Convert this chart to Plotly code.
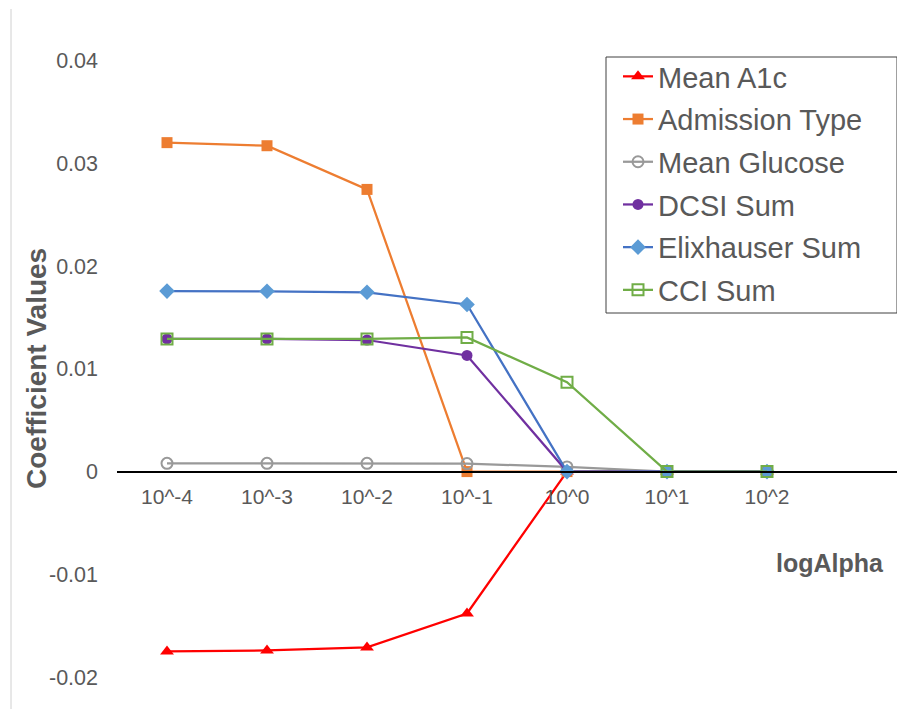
import plotly.graph_objects as go

categories = ["10^-4", "10^-3", "10^-2", "10^-1", "10^0", "10^1", "10^2"]

mean_a1c = [-0.0175, -0.0174, -0.0171, -0.0138, 0.0, 0.0, 0.0]
admission_type = [0.0320, 0.0317, 0.02745, 0.0, 0.0, 0.0, 0.0]
mean_glucose = [0.0008, 0.0008, 0.0008, 0.00078, 0.00045, 0.0, 0.0]
dcsi_sum = [0.0129, 0.0129, 0.0128, 0.0113, 0.0, 0.0, 0.0]
elixhauser_sum = [0.01756, 0.01754, 0.01744, 0.01626, 0.0, 0.0, 0.0]
cci_sum = [0.0129, 0.0129, 0.0129, 0.01305, 0.0087, 0.0, 0.0]

y_ticks = [0.04, 0.03, 0.02, 0.01, 0.0, -0.01, -0.02]
y_tick_text = ["0.04", "0.03", "0.02", "0.01", "0", "-0.01", "-0.02"]

Y_MIN, Y_MAX = -0.0229, 0.0450
FONT = "Liberation Sans, Arial, sans-serif"
TXT = "#595959"

# page body has an 8px margin; the figure is sized to fit the window
W, H = 897, 701
PL, PT = 109, 1          # plot-area left/top inside the figure
PW, PH = 788, 698        # plot-area width/height

def px_x(x_win):
    return (x_win - 8 - PL) / PW

def px_y(y_win):
    return (PT + PH - (y_win - 8)) / PH

series = [
    ("Mean A1c", mean_a1c, "#FF0000", dict(symbol="triangle-up", size=12, color="#FF0000")),
    ("Admission Type", admission_type, "#ED7D31", dict(symbol="square", size=11, color="#ED7D31")),
    ("Mean Glucose", mean_glucose, "#999999",
     dict(symbol="circle-open", size=11, color="#999999", line=dict(width=2, color="#999999"))),
    ("DCSI Sum", dcsi_sum, "#7030A0", dict(symbol="circle", size=11, color="#7030A0")),
    ("Elixhauser Sum", elixhauser_sum, "#4472C4", dict(symbol="diamond", size=12, color="#5B9BD5")),
    ("CCI Sum", cci_sum, "#70AD47",
     dict(symbol="square-open", size=11, color="#70AD47", line=dict(width=2, color="#70AD47"))),
]

fig = go.Figure()
for i, (name, vals, col, mk) in enumerate(series):
    fig.add_trace(go.Scatter(
        x=categories, y=vals, name=name, mode="lines+markers",
        line=dict(color=col, width=2.25), marker=mk, legendgroup=f"g{i}",
    ))

zero_pos = (0 - Y_MIN) / (Y_MAX - Y_MIN)

fig.update_layout(
    width=W, height=H,
    margin=dict(l=PL, r=W - PL - PW, t=PT, b=H - PT - PH, autoexpand=False),
    paper_bgcolor="white", plot_bgcolor="white",
    font=dict(family=FONT, color=TXT, size=21),
    showlegend=True,
    legend=dict(
        x=px_x(618), y=px_y(51), xanchor="left", yanchor="top",
        bgcolor="rgba(0,0,0,0)", borderwidth=0,
        font=dict(size=29, color=TXT, family=FONT),
        traceorder="grouped", tracegroupgap=2, itemwidth=30,
    ),
    xaxis=dict(
        type="category", range=[-0.5, 7.38],
        anchor="free", position=zero_pos,
        showline=True, linecolor="black", linewidth=2,
        showgrid=False, zeroline=False, ticks="",
        ticklabelstandoff=6,
        tickfont=dict(size=21, color=TXT, family=FONT),
    ),
    yaxis=dict(
        range=[Y_MIN, Y_MAX], tickvals=y_ticks, ticktext=y_tick_text,
        showgrid=False, zeroline=False, showline=False, ticks="",
        ticklabelstandoff=18,
        tickfont=dict(size=21.5, color=TXT, family=FONT),
    ),
    shapes=[
        dict(type="rect", xref="paper", yref="paper",
             x0=px_x(606), x1=px_x(897), y0=px_y(313), y1=px_y(57),
             line=dict(color="#404040", width=1)),
        dict(type="line", xref="paper", yref="paper",
             x0=px_x(11), x1=px_x(11), y0=px_y(712), y1=px_y(9),
             line=dict(color="#D0D0D0", width=1)),
    ],
    annotations=[
        dict(text="<b>Coefficient Values</b>", xref="paper", yref="paper",
             x=px_x(36), y=px_y(369), textangle=-90,
             showarrow=False, font=dict(size=28, color=TXT, family=FONT),
             xanchor="center", yanchor="middle"),
        dict(text="<b>logAlpha</b>", xref="paper", yref="paper",
             x=px_x(830), y=px_y(563),
             showarrow=False, font=dict(size=25, color=TXT, family=FONT),
             xanchor="center", yanchor="middle"),
    ],
)

fig.write_html("out.html")
